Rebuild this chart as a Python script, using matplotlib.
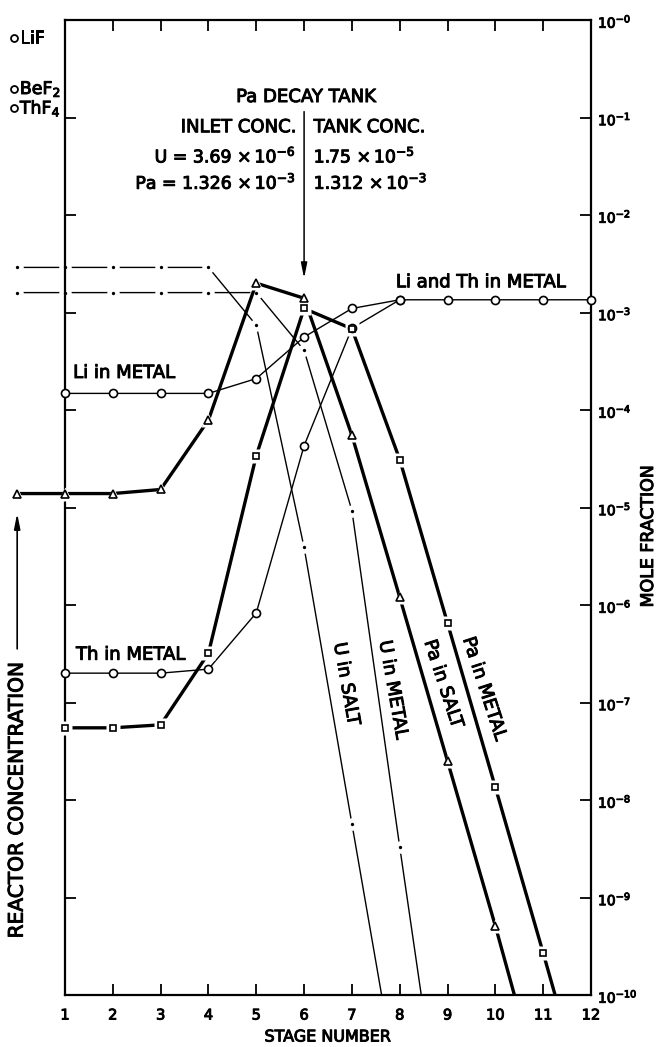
import numpy as np
import matplotlib
matplotlib.use("Agg")
import matplotlib.pyplot as plt
import matplotlib.patheffects as pe
from matplotlib.text import Text
from matplotlib.patches import Rectangle
from matplotlib.ticker import FixedLocator, FixedFormatter, NullLocator
from matplotlib.transforms import blended_transform_factory

plt.rcParams['font.family'] = ['DejaVu Sans']

# stage 0 = reactor (left of the axis)
u_salt_x = [0, 1, 2, 3, 4, 5, 6, 7, 8]
u_salt = [2.9e-3, 2.9e-3, 2.9e-3, 2.9e-3, 2.9e-3, 7.4e-4, 3.9e-6, 5.7e-9, 8.5e-12]

u_metal_x = [0, 1, 2, 3, 4, 5, 6, 7, 8, 9]
u_metal = [1.6e-3, 1.6e-3, 1.6e-3, 1.6e-3, 1.6e-3, 1.6e-3, 4.1e-4, 9.3e-6, 3.3e-9, 1.4e-12]

pa_salt_x = [0, 1, 2, 3, 4, 5, 6, 7, 8, 9, 10, 11]
pa_salt = [1.39e-5, 1.39e-5, 1.39e-5, 1.53e-5, 7.9e-5, 2.0e-3, 1.4e-3, 5.5e-5,
           1.2e-6, 2.5e-8, 5.1e-10, 8.5e-12]

pa_metal_x = [1, 2, 3, 4, 5, 6, 7, 8, 9, 10, 11, 12]
pa_metal = [5.5e-8, 5.5e-8, 5.9e-8, 3.2e-7, 3.4e-5, 1.1e-3, 6.8e-4, 3.1e-5,
            6.5e-7, 1.35e-8, 2.7e-10, 5.0e-12]

li_metal_x = [1, 2, 3, 4, 5, 6, 7, 8, 9, 10, 11, 12]
li_metal = [1.48e-4, 1.48e-4, 1.48e-4, 1.48e-4, 2.1e-4, 5.6e-4, 1.1e-3,
            1.35e-3, 1.35e-3, 1.35e-3, 1.35e-3, 1.35e-3]

th_metal_x = [1, 2, 3, 4, 5, 6, 7, 8]
th_metal = [2.0e-7, 2.0e-7, 2.0e-7, 2.2e-7, 8.3e-7, 4.3e-5, 6.9e-4, 1.35e-3]

salt_names = ["LiF", "BeF$_2$", "ThF$_4$"]
salt_frac = [0.653, 0.196, 0.125]

stage_labels = [str(i) for i in range(1, 13)]
decades = [10.0 ** -k for k in range(0, 11)]
decade_labels = ["$10^{-%d}$" % k for k in range(0, 11)]

fig = plt.figure(figsize=(6.58, 10.47), dpi=100)
ax = fig.add_axes([65 / 658, 52 / 1047, 526 / 658, 975 / 1047])
ax.set_yscale('log')
ax.set_xlim(1, 12)
ax.set_ylim(1e-10, 1)

clip_tr = blended_transform_factory(ax.transData, ax.transAxes)
clip_box = Rectangle((-1, 0), 13.5, 1.05, transform=clip_tr, fill=False, visible=False)
ax.add_patch(clip_box)


def clipped(arts):
    for a in arts:
        a.set_clip_path(clip_box)


def dashdot_line(x, y):
    # solid segments broken at each stage with a small dot
    clipped(ax.plot(x, y, color='k', lw=1.0, zorder=2))
    clipped(ax.plot(x, y, ls='none', marker='o', ms=9, mfc='white', mec='none', zorder=2.5))
    clipped(ax.plot(x, y, ls='none', marker='o', ms=2.4, mfc='k', mec='none', zorder=2.6))


def marked_line(x, y, marker, ms, lw, gap):
    clipped(ax.plot(x, y, color='k', lw=lw, solid_capstyle='butt', zorder=3))
    clipped(ax.plot(x, y, ls='none', marker=marker, ms=gap, mfc='white', mec='none', zorder=3.5))
    clipped(ax.plot(x, y, ls='none', marker=marker, ms=ms, mfc='white', mec='k', mew=1.2, zorder=4))


dashdot_line(u_salt_x, u_salt)
dashdot_line(u_metal_x, u_metal)
marked_line(li_metal_x, li_metal, 'o', 5.8, 1.0, 5.8)
marked_line(th_metal_x, th_metal, 'o', 5.8, 1.0, 5.8)
marked_line(pa_salt_x, pa_salt, '^', 6, 2.4, 10.5)
marked_line(pa_metal_x, pa_metal, 's', 5, 2.4, 9.5)

# salt composition at the reactor
for name, frac in zip(salt_names, salt_frac):
    ax.plot([-0.06], [frac], ls='none', marker='o', ms=5, mfc='white', mec='k', mew=1.3, clip_on=False)
    ax.annotate(name, xy=(-0.06, frac), xytext=(4, 0), textcoords='offset points',
                va='center', ha='left', fontsize=12.5, annotation_clip=False)

# axes styling
for s in ax.spines.values():
    s.set_linewidth(1.6)
ax.xaxis.set_major_locator(FixedLocator(range(1, 13)))
ax.xaxis.set_major_formatter(FixedFormatter(stage_labels))
ax.yaxis.set_major_locator(FixedLocator(decades))
ax.yaxis.set_major_formatter(FixedFormatter(decade_labels))
ax.yaxis.set_minor_locator(NullLocator())
ax.tick_params(axis='both', direction='in', length=8, width=1.3,
               top=True, right=True, left=True, bottom=True,
               labelleft=False, labelright=True, labelbottom=True)
ax.tick_params(axis='x', labelsize=10.5, pad=9)
ax.tick_params(axis='y', labelsize=10, pad=5)
ax.set_xlabel("STAGE NUMBER", fontsize=11.5, labelpad=5)

fig.text(648 / 658, 1 - 536 / 1047, "MOLE FRACTION", rotation=90,
         ha='center', va='center', fontsize=12.5)

# reactor concentration arrow
ax.annotate('', xy=(0, 10 ** -5.06), xytext=(0, 10 ** -6.45),
            arrowprops=dict(arrowstyle='-|>,head_length=0.9,head_width=0.18',
                            color='k', lw=1.2, shrinkA=0, shrinkB=0),
            annotation_clip=False)
ax.text(0, 10 ** -8.0, "REACTOR CONCENTRATION", rotation=90, ha='center',
        va='center', fontsize=14.5)

# Pa decay tank
ax.annotate('', xy=(6, 10 ** -2.65), xytext=(6, 10 ** -0.94),
            arrowprops=dict(arrowstyle='-|>,head_length=0.9,head_width=0.18',
                            color='k', lw=1.1, shrinkA=0, shrinkB=0))
ax.text(6.04, 10 ** -0.79, "Pa DECAY TANK", ha='center', va='center', fontsize=13)
ax.text(5.83, 10 ** -1.10, "INLET CONC.", ha='right', va='center', fontsize=13)
ax.text(6.2, 10 ** -1.10, "TANK CONC.", ha='left', va='center', fontsize=13)
ax.text(5.83, 10 ** -1.40, r"U = 3.69 $\times\,10^{-6}$", ha='right', va='center', fontsize=12.5)
ax.text(6.2, 10 ** -1.40, r"1.75 $\times\,10^{-5}$", ha='left', va='center', fontsize=12.5)
ax.text(5.83, 10 ** -1.67, r"Pa = 1.326 $\times\,10^{-3}$", ha='right', va='center', fontsize=12.5)
ax.text(6.2, 10 ** -1.67, r"1.312 $\times\,10^{-3}$", ha='left', va='center', fontsize=12.5)

# curve labels
ax.text(7.92, 10 ** -2.69, "Li and Th in METAL", ha='left', va='center', fontsize=13)
ax.text(1.17, 10 ** -3.62, "Li in METAL", ha='left', va='center', fontsize=13)
ax.text(1.23, 10 ** -6.51, "Th in METAL", ha='left', va='center', fontsize=13)
ax.text(6.88, 10 ** -6.81, "U in SALT", rotation=-80, rotation_mode='anchor',
        ha='center', va='center', fontsize=13)
ax.text(7.86, 10 ** -6.87, "U in METAL", rotation=-80, rotation_mode='anchor',
        ha='center', va='center', fontsize=13)
ax.text(8.91, 10 ** -6.81, "Pa in SALT", rotation=-72, rotation_mode='anchor',
        ha='center', va='center', fontsize=13)
ax.text(9.77, 10 ** -6.86, "Pa in METAL", rotation=-72, rotation_mode='anchor',
        ha='center', va='center', fontsize=13)

# lettering in the original is heavier than a regular face
for t in fig.findobj(Text):
    t.set_path_effects([pe.withStroke(linewidth=0.7, foreground='k')])

fig.savefig("out.png", dpi=100)
